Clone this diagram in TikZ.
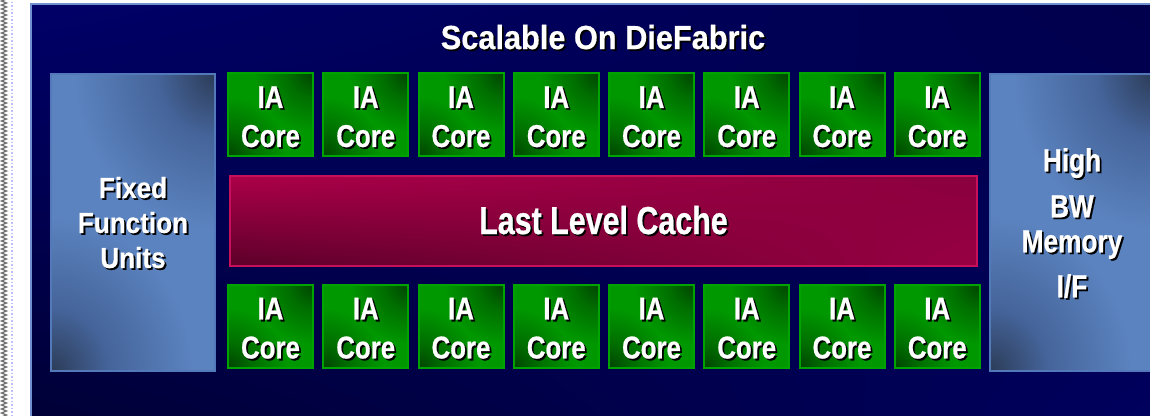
\documentclass[tikz,border=0pt]{standalone}
\usepackage{fontspec}
\setmainfont{Liberation Sans}
\newfontfamily\fttl[FakeStretch=0.917,FakeBold=0.4]{Liberation Sans}
\newfontfamily\fcore[FakeStretch=0.82,FakeBold=0.6]{Liberation Sans}
\newfontfamily\fllc[FakeStretch=0.78,FakeBold=0.6]{Liberation Sans}
\newfontfamily\ffix[FakeStretch=0.9,FakeBold=0.4]{Liberation Sans}
\usetikzlibrary{decorations.pathmorphing,shadings}
\definecolor{navyA}{HTML}{000068}
\definecolor{navyB}{HTML}{00004C}
\definecolor{navyC}{HTML}{000036}
\definecolor{navyD}{HTML}{00005E}
\definecolor{outerbd}{HTML}{7090D0}
\definecolor{blueL}{HTML}{5B83BF}
\definecolor{blueM}{HTML}{45649A}
\definecolor{blueD}{HTML}{2C3C58}
\definecolor{bluebd}{HTML}{5479BA}
\definecolor{grnL}{HTML}{009800}
\definecolor{grnM}{HTML}{006E00}
\definecolor{grnD}{HTML}{004400}
\definecolor{grnbd}{HTML}{00A400}
\definecolor{redUL}{HTML}{AC0049}
\definecolor{redUR}{HTML}{8A003E}
\definecolor{redLL}{HTML}{5C0029}
\definecolor{redLR}{HTML}{980043}
\definecolor{redbd}{HTML}{C8105A}
\pgfdeclareradialshading{fadeblue}{\pgfpoint{0bp}{0bp}}{color(0bp)=(blueD); color(9bp)=(blueM); color(22bp)=(blueL); color(50bp)=(blueL)}
\pgfdeclareradialshading{fadegreen}{\pgfpoint{0bp}{0bp}}{color(0bp)=(grnD); color(9bp)=(grnM); color(22bp)=(grnL); color(50bp)=(grnL)}
\newcommand\sh[1]{\rlap{\kern1.8pt\raisebox{-1.8pt}{\color{black}#1}}#1}
\newcommand\iacore{\sh{IA}\rule{0pt}{28pt}\\\sh{Core}}
\tikzset{
  cfade/.style n args={4}{path picture={
     \fill[#1] (path picture bounding box.south west) rectangle (path picture bounding box.north east);
     \begin{scope}
       \clip (path picture bounding box.north west) -- (path picture bounding box.north east)
         -- (path picture bounding box.south east) -- cycle;
       \shade[shading=#2] (path picture bounding box.north east) ellipse [x radius=#3, y radius=#4];
     \end{scope}
     \begin{scope}
       \clip (path picture bounding box.north west) -- (path picture bounding box.south west)
         -- (path picture bounding box.south east) -- cycle;
       \shade[shading=#2] (path picture bounding box.south west) ellipse [x radius=#3, y radius=#4];
     \end{scope}}},
  corebox/.style={draw=grnbd, line width=2pt, cfade={grnL}{fadegreen}{68pt}{68pt},
    minimum width=85pt, minimum height=83pt,
    inner sep=0pt, text=white, align=center,
    font=\fcore\bfseries\fontsize{31.5}{39}\selectfont},
  sidebox/.style={draw=bluebd, line width=2pt, cfade={blueL}{fadeblue}{160pt}{175pt},
    minimum width=164pt, minimum height=297pt,
    inner sep=0pt, text=white, align=center},
  cachebox/.style={draw=redbd, line width=2pt, shade, upper left=redUL, upper right=redUR,
    lower left=redLL, lower right=redLR, minimum width=747pt, minimum height=90pt,
    inner sep=0pt, text=white, font=\fllc\bfseries\fontsize{39}{45}\selectfont},
  titletext/.style={text=white, inner sep=0pt, font=\fttl\bfseries\fontsize{33.5}{40}\selectfont}
}
\begin{document}
\begin{tikzpicture}[x=1pt,y=-1pt]
\useasboundingbox (0,0) rectangle (1150,415);
\clip (0,0) rectangle (1150,415);
\fill[white] (0,0) rectangle (1150,415);
% left edge pattern
\draw[black!55, line width=1.3pt, decorate, decoration={zigzag, amplitude=2.5pt, segment length=4pt}] (4,-2) -- (4,420);
\draw[blue!25, line width=1.5pt, dotted] (12,-2) -- (12,420);
% outer panel
\shade[upper left=navyA, upper right=navyB, lower left=navyC, lower right=navyD] (31,4) rectangle (1160,425);
\draw[outerbd, line width=2pt] (31,4) rectangle (1160,425);
\node[titletext] (title) at (603,38) {\sh{Scalable On DieFabric}};
% side boxes
\node[sidebox, font=\ffix\bfseries\fontsize{29}{35}\selectfont] (ffu) at (133,222.5)
  {\sh{Fixed}\rule{0pt}{23pt}\\\sh{Function}\\\sh{Units}};
\node[sidebox, font=\fcore\bfseries\fontsize{32}{35}\selectfont] (hbw) at (1072,222.5)
  {\sh{High}\rule{0pt}{26pt}\\[11pt]\sh{BW}\\\sh{Memory}\\[10pt]\sh{I/F}};
% cache
\node[cachebox] (llc) at (603.5,221) {\sh{Last Level Cache}};
% cores
\foreach \i in {0,...,7}{
  \node[corebox] (ct\i) at ({270.5+95.25*\i},114.5) {\iacore};
  \node[corebox] (cb\i) at ({270.5+95.25*\i},326) {\iacore};
}
\end{tikzpicture}
\end{document}
